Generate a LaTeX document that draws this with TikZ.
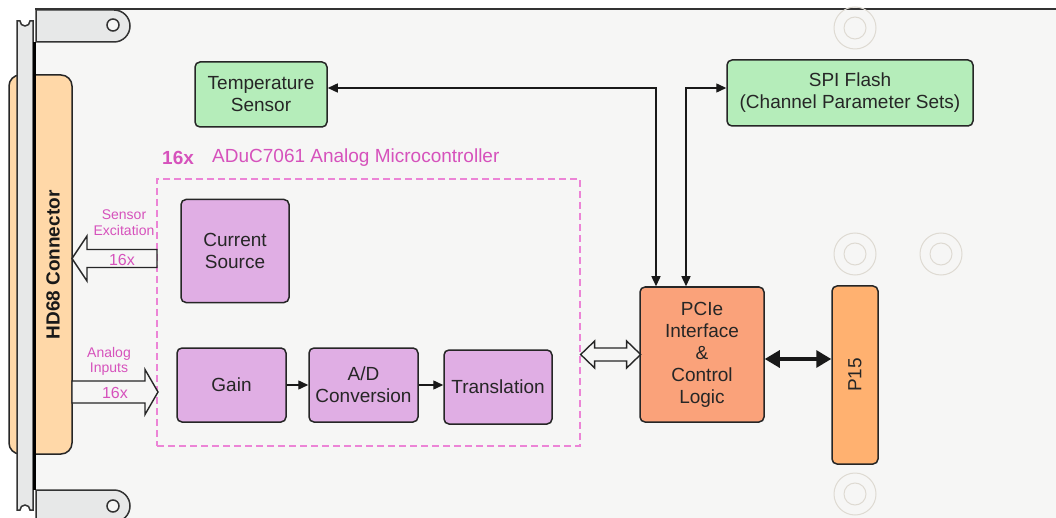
\documentclass[tikz,border=0pt]{standalone}
\usepackage{fontspec}
\setmainfont{Liberation Sans}
\usetikzlibrary{arrows.meta}
\definecolor{board}{RGB}{246,246,245}
\definecolor{tabgray}{RGB}{231,232,232}
\definecolor{peach}{RGB}{255,216,168}
\definecolor{sensorgreen}{RGB}{181,237,186}
\definecolor{lavender}{RGB}{224,174,228}
\definecolor{salmon}{RGB}{250,162,122}
\definecolor{portorange}{RGB}{255,177,112}
\definecolor{pinktext}{RGB}{214,82,188}
\definecolor{pinkdash}{RGB}{236,132,214}
\definecolor{ringgray}{RGB}{222,218,210}
\newcommand{\bigfont}{\fontsize{19}{22}\selectfont}
\tikzset{
  block/.style={draw=black!85, line width=1.5pt, rounded corners=5pt, inner sep=0pt,
    align=center, text=black!85, font=\bigfont},
  microbox/.style={draw=pinkdash, line width=1.3pt, dash pattern=on 7pt off 4pt, inner sep=0pt},
  link/.style={{Triangle[length=10pt,width=9pt]}-{Triangle[length=10pt,width=9pt]}, line width=1.4pt, black!90},
  flow/.style={-{Triangle[length=10pt,width=9pt]}, line width=1.4pt, black!90},
  buslink/.style={{Triangle[length=15pt,width=17pt]}-{Triangle[length=15pt,width=17pt]}, line width=3.2pt, black!90},
  hollow/.style={draw=black!85, line width=1.4pt, fill=board, line join=miter},
  pinklabel/.style={text=pinktext, align=center, inner sep=0pt},
  ring/.style={draw=ringgray, line width=1pt},
  bracket/.style={draw=black!80, line width=1.5pt, fill=tabgray},
}
\begin{document}
\begin{tikzpicture}[x=1pt,y=-1pt]
    \useasboundingbox (0,0) rectangle (1056,518);
    \fill[white] (0,0) rectangle (1056,518);
    \fill[board] (35,9) rectangle (1056,518);
    \draw[black!80, line width=2pt] (35,9) -- (1056,9);
    %mounting holes
    \foreach \rx/\ry in {855/28, 855/254, 941/254, 855/494} {
        \draw[ring] (\rx,\ry) circle[radius=21];
        \draw[ring] (\rx,\ry) circle[radius=11];
    }
    %front panel
    \draw[bracket] (36,10) -- (114,10) arc[start angle=-90, end angle=90, radius=16] -- (36,42) -- cycle;
    \draw[bracket, fill=board] (113,25) circle[radius=6];
    \draw[bracket] (36,490) -- (114,490) arc[start angle=-90, end angle=90, radius=16] -- (36,522) -- cycle;
    \draw[bracket, fill=board] (113,506) circle[radius=6];
    \node[draw=black!85, line width=1.5pt, fill=peach, rounded corners=11pt,
          minimum width=63pt, minimum height=379pt, inner sep=0pt] (conn) at (40.5,264.5) {};
    \draw[bracket] (17,510) -- (17,21) -- (20,21) arc[start angle=180, end angle=0, radius=5]
        -- (33,21) -- (33,510) -- (30,510) arc[start angle=0, end angle=-180, radius=5] -- cycle;
    \draw[black, line width=2.5pt] (34.5,42) -- (34.5,490);
    \node[rotate=90, font=\bigfont\bfseries, text=black!90] (connlabel) at (53,265) {HD68 Connector};

    %blocks
    \node[block, fill=sensorgreen, minimum width=132pt, minimum height=65pt] (temp) at (261,94.5) {Temperature\\Sensor};
    \node[block, fill=sensorgreen, minimum width=246pt, minimum height=66pt] (spi) at (850,93) {SPI Flash\\(Channel Parameter Sets)};
    \node[microbox, minimum width=423pt, minimum height=267pt] (micro) at (368.5,312.5) {};
    \node[pinklabel, font=\bigfont\bfseries, anchor=west] (count) at (162,158) {16x};
    \node[pinklabel, font=\bigfont, anchor=west] (mctitle) at (212,158) {ADuC7061 Analog Microcontroller};
    \node[block, fill=lavender, minimum width=108pt, minimum height=103pt] (cursrc) at (235,251) {Current\\Source};
    \node[block, fill=lavender, minimum width=109pt, minimum height=74pt] (gain) at (231.5,385) {Gain};
    \node[block, fill=lavender, minimum width=109pt, minimum height=74pt] (adc) at (363.5,385) {A/D\\Conversion};
    \node[block, fill=lavender, minimum width=108pt, minimum height=74pt] (trans) at (498,387) {Translation};
    \node[block, fill=salmon, minimum width=124pt, minimum height=135pt] (pcie) at (702,354.5) {PCIe\\Interface\\\&\\Control\\Logic};
    \node[block, fill=portorange, minimum width=46pt, minimum height=178pt] (pfif) at (855,375) {};
    \node[rotate=90, font=\bigfont, text=black!85] (pfiflabel) at (pfif) {P15};

    %signal paths
    \draw[flow] (gain) -- (adc);
    \draw[flow] (adc.east) -- (adc.east -| trans.west);
    \coordinate (tjoin) at (656,88);
    \coordinate (sjoin) at (686,88);
    \draw[link] (temp.east |- tjoin) -- (tjoin) -- (tjoin |- pcie.north);
    \draw[link] (spi.west |- sjoin) -- (sjoin) -- (sjoin |- pcie.north);
    \coordinate (bus) at (800,359);
    \draw[buslink] (pcie.east |- bus) -- (pfif.west |- bus);
    \draw[hollow] (micro.east |- pcie.west) -- ++(14,-13.5) -- ++(0,7) -- ++(32,0) -- ++(0,-7)
        -- ++(14,13.5) -- ++(-14,13.5) -- ++(0,-7) -- ++(-32,0) -- ++(0,7) -- cycle;
    \coordinate (exctip) at (72,258.5);
    \draw[hollow] (exctip) -- ++(15,-22.5) -- ++(0,13.5) -- ++(70,0) -- ++(0,18)
        -- ++(-70,0) -- ++(0,13.5) -- cycle;
    \coordinate (inbase) at (72,381);
    \draw[hollow] (inbase) -- ++(73,0) -- ++(0,-11.5) -- ++(13,22.5) -- ++(-13,22.5)
        -- ++(0,-11.5) -- ++(-73,0) -- cycle;
    \node[pinklabel, font=\fontsize{14}{16}\selectfont] (exclabel) at (124,223) {Sensor\\Excitation};
    \node[pinklabel, font=\fontsize{16}{18}\selectfont] (exccount) at (122,260) {16x};
    \node[pinklabel, font=\fontsize{14}{15.5}\selectfont] (inlabel) at (109,361.5) {Analog\\Inputs};
    \node[pinklabel, font=\fontsize{16}{18}\selectfont] (incount) at (115,393) {16x};
\end{tikzpicture}
\end{document}
